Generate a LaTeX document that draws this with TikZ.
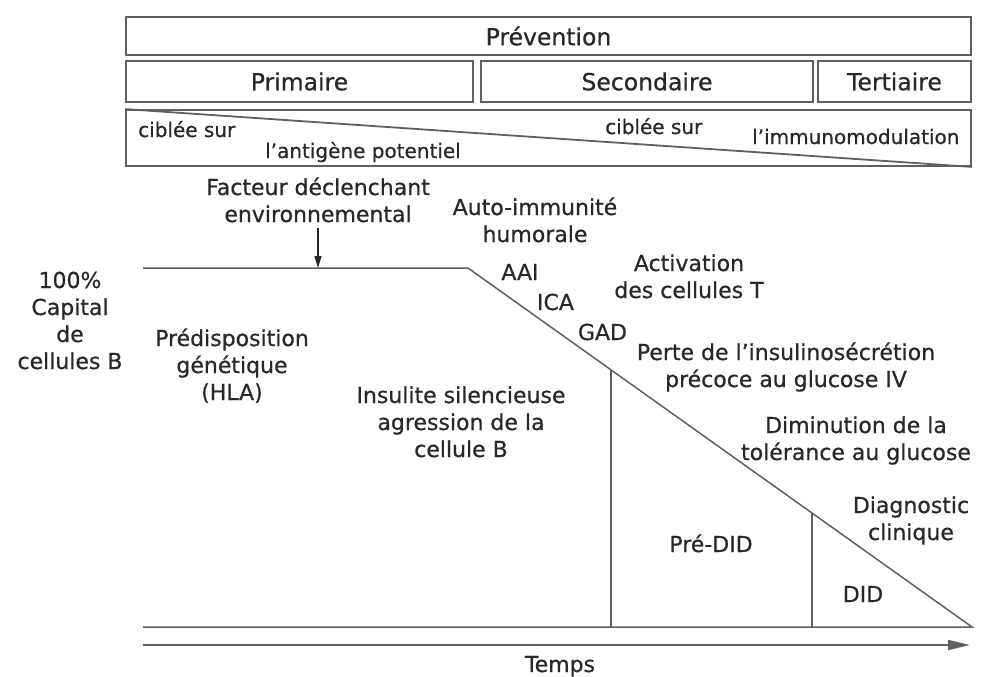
\documentclass[tikz,border=0pt]{standalone}
\usepackage{fontspec}
\setmainfont{DejaVu Sans}[BoldFont={DejaVu Sans}, BoldFeatures={FakeBold=0.6}]
\usetikzlibrary{arrows.meta,calc}
\definecolor{inkcol}{RGB}{40,40,40}
\definecolor{rulecol}{RGB}{95,95,95}
\tikzset{
  % heading box of the prevention table
  hbox/.style={rectangle, draw=rulecol, line width=1.8pt, minimum height=#1, inner sep=0pt,
               font=\fontsize{23.5}{27}\selectfont\bfseries, text=inkcol},
  hbox/.default={40pt},
  % text inside the lower table row
  tlbl/.style={inner sep=0pt, font=\fontsize{20}{24}\selectfont\bfseries, text=inkcol},
  % diagram label (anchored on its last line)
  lbl/.style={align=center, inner sep=0pt, anchor=base, font=\fontsize{22}{27}\selectfont\bfseries, text=inkcol},
  % beta-cell curve and dividers
  curve/.style={draw=rulecol, line width=1.5pt, line join=miter},
  % small trigger arrow
  trigarrow/.style={-{Triangle[length=12pt,width=7pt]}, draw=inkcol, line width=1.2pt},
  % time axis
  timearrow/.style={-{Triangle[length=22pt,width=10pt]}, draw=rulecol, line width=1.8pt},
}
\begin{document}
\begin{tikzpicture}[x=1pt,y=-1pt]
  \useasboundingbox (0,0) rectangle (989,677);
  % prevention table
  \node[hbox=38pt, minimum width=845pt] (prev) at (548.5,36) {Prévention};
  \node[hbox=41pt, minimum width=347pt] (prim) at (299.5,81.5) {Primaire};
  \node[hbox=41pt, minimum width=332pt] (sec) at (647,81.5) {Secondaire};
  \node[hbox=41pt, minimum width=153pt] (tert) at (894.5,81.5) {Tertiaire};
  \node[hbox=56pt, minimum width=845pt] (cible) at (548.5,138) {};
  \draw[curve, line width=1.8pt] (cible.north west) -- (cible.south east);
  \node[tlbl, anchor=base west] (cibA) at (138,137) {ciblée sur};
  \node[tlbl, anchor=base west] (antig) at (265,158) {l’antigène potentiel};
  \node[tlbl, anchor=base west] (cibB) at (605,134) {ciblée sur};
  \node[tlbl, anchor=base west] (immuno) at (752,144) {l’immunomodulation};

  % beta-cell capital
  \coordinate (c0) at (143,268);
  \coordinate (c1) at (468,268);
  \coordinate (c2) at (972,627);
  \coordinate (c3) at (143,627);
  \draw[curve] (c0) -- (c1) -- (c2) -- (c3);
  \coordinate (v1) at ($(c1)!0.284!(c2)$);
  \coordinate (v2) at ($(c1)!0.6825!(c2)$);
  \draw[curve] (v1) -- (v1 |- c3);
  \draw[curve] (v2) -- (v2 |- c3);
  \coordinate (t0) at (143,645);
  \coordinate (t1) at (970,645);
  \draw[timearrow] (t0) -- (t1);

  % labels
  \node[lbl] (fact) at (318,222) {Facteur déclenchant\\environnemental};
  \coordinate (hit) at (318,268);
  \draw[trigarrow] ([yshift=-5pt]fact.south) -- (hit);
  \node[lbl] (capital) at (70,369) {100\%\\Capital\\de\\cellules B};
  \node[lbl] (predis) at (232,400) {Prédisposition\\génétique\\(HLA)};
  \node[lbl] (auto) at (535,242) {Auto-immunité\\humorale};
  \node[lbl] (aai) at (520,280) {AAI};
  \node[lbl] (ica) at (555.5,310) {ICA};
  \node[lbl] (gad) at (602.5,340) {GAD};
  \node[lbl] (activ) at (689,298) {Activation\\des cellules T};
  \node[lbl] (perte) at (786,387) {Perte de l’insulinosécrétion\\précoce au glucose IV};
  \node[lbl] (insul) at (461,457) {Insulite silencieuse\\agression de la\\cellule B};
  \node[lbl] (dimin) at (856,460) {Diminution de la\\tolérance au glucose};
  \node[lbl] (diagn) at (911,540) {Diagnostic\\clinique};
  \node[lbl] (predid) at (711,552) {Pré-DID};
  \node[lbl] (did) at (863,602) {DID};
  \node[lbl] (temps) at (560,672) {Temps};
\end{tikzpicture}
\end{document}
